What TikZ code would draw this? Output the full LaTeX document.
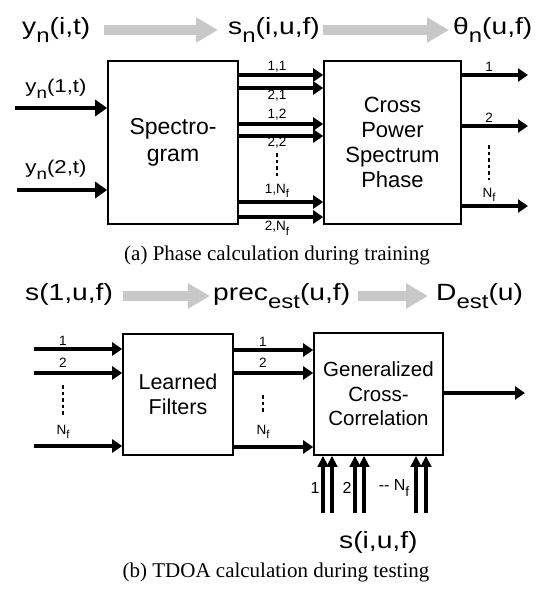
\documentclass[tikz,border=0pt]{standalone}
\usepackage{fontspec}
\setmainfont{Liberation Sans}
\newfontfamily\widesans{Liberation Sans}[FakeStretch=1.2]
\newfontfamily\capserif{Liberation Serif}
\usetikzlibrary{positioning,arrows.meta}
\definecolor{flowgray}{RGB}{200,200,200}
\newcommand{\lsub}[1]{\raisebox{-0.65ex}{\scalebox{0.85}{#1}}}
\tikzset{
  blk/.style={draw,line width=1.6pt,inner sep=0pt,align=center},
  sig/.style={line width=4pt,-{Triangle[length=10pt,width=13pt]}},
  bigsig/.style={line width=4.5pt,-{Triangle[length=12pt,width=16pt]}},
  upsig/.style={line width=3.5pt,-{Triangle[length=11pt,width=10.5pt]}},
  flow/.style={draw=flowgray,line width=10pt,-{Triangle[length=22pt,width=24pt]}},
  ttl/.style={inner sep=0pt,text height=17.5pt,text depth=8pt,font=\widesans\fontsize{23.5}{26}\selectfont},
  inlbl/.style={inner sep=0pt,font=\widesans\fontsize{18.5}{20}\selectfont},
  lbl/.style={inner sep=0pt,font=\fontsize{13.5}{14}\selectfont},
  uplbl/.style={inner sep=0pt,font=\fontsize{16}{18}\selectfont},
  vdots/.style={line width=2.2pt,dash pattern=on 3.5pt off 3pt},
  capt/.style={inner sep=0pt,font=\capserif\fontsize{21}{24}\selectfont}
}
\begin{document}
\begin{tikzpicture}[x=1pt,y=-1pt]
\useasboundingbox (0,0) rectangle (552,589);

\node[ttl,anchor=west] (yit) at (22,30) {y\lsub{n}(i,t)};
\node[ttl,anchor=west] (snt) at (228,30) {s\lsub{n}(i,u,f)};
\node[ttl,anchor=west] (thn) at (453,30) {θ\lsub{n}(u,f)};

\draw[flow,shorten <=13pt,shorten >=10pt] (yit) -- (snt);
\draw[flow,shorten <=3pt,shorten >=4pt] (snt) -- (thn);

\node[blk,minimum width=130pt,minimum height=163pt,font=\fontsize{23}{27}\selectfont] (spec) at (173,142.5) {Spectro-\\gram};
\node[blk,minimum width=137pt,minimum height=163pt,font=\fontsize{22}{25}\selectfont] (cpsp) at (392.5,142.5) {Cross\\Power\\Spectrum\\Phase};

\coordinate (yin1) at (15,108);
\coordinate (yin2) at (17,190);
\node[inlbl,anchor=base] (y1l) at (56,92) {y\lsub{n}(1,t)};
\node[inlbl,anchor=base] (y2l) at (56,173) {y\lsub{n}(2,t)};
\draw[bigsig] (yin1) -- (spec.west |- yin1);
\draw[bigsig] (yin2) -- (spec.west |- yin2);

\draw[sig] (spec.east |- 0,75) -- (cpsp.west |- 0,75);
\draw[sig] (spec.east |- 0,88) -- (cpsp.west |- 0,88);
\draw[sig] (spec.east |- 0,124) -- (cpsp.west |- 0,124);
\draw[sig] (spec.east |- 0,136) -- (cpsp.west |- 0,136);
\draw[sig] (spec.east |- 0,202) -- (cpsp.west |- 0,202);
\draw[sig] (spec.east |- 0,217) -- (cpsp.west |- 0,217);

\node[lbl] (l11) at (277,67) {1,1};
\node[lbl] (l21) at (277,96) {2,1};
\node[lbl] (l12) at (277,115) {1,2};
\node[lbl] (l22) at (277,143) {2,2};
\node[lbl] (l1n) at (277,191) {1,N\lsub{f}};
\node[lbl] (l2n) at (277,228) {2,N\lsub{f}};
\draw[vdots] (277,153) -- (277,177);

\coordinate (th1) at (528,75);
\coordinate (th2) at (528,126);
\coordinate (thN) at (528,206);
\draw[sig] (cpsp.east |- th1) -- (th1);
\draw[sig] (cpsp.east |- th2) -- (th2);
\draw[sig] (cpsp.east |- thN) -- (thN);
\node[lbl] (o1) at (489,67) {1};
\node[lbl] (o2) at (489,118) {2};
\node[lbl] (oN) at (489,195) {N\lsub{f}};
\draw[vdots] (489,145) -- (489,180);

\node[capt,anchor=base] (capa) at (277,260) {(a) Phase calculation during training};

\node[ttl,anchor=west] (s1t) at (25,296) {s(1,u,f)};
\node[ttl,anchor=west] (prt) at (213,296) {prec\lsub{est}(u,f)};
\node[ttl,anchor=west] (dst) at (436,296) {D\lsub{est}(u)};

\draw[flow,shorten <=10pt,shorten >=3pt] (s1t) -- (prt);
\draw[flow,shorten <=8pt,shorten >=8pt] (prt) -- (dst);

\node[blk,minimum width=110pt,minimum height=121pt,font=\fontsize{21.5}{25}\selectfont] (filt) at (178,394.5) {Learned\\Filters};
\node[blk,minimum width=129pt,minimum height=122pt,font=\fontsize{20.5}{24.5}\selectfont] (gcc) at (378.5,394) {Generalized\\Cross-\\Correlation};

\coordinate (s1in) at (34,349);
\coordinate (s2in) at (34,373);
\coordinate (sNin) at (34,446);
\draw[sig] (s1in) -- (filt.west |- s1in);
\draw[sig] (s2in) -- (filt.west |- s2in);
\draw[sig] (sNin) -- (filt.west |- sNin);
\node[lbl] (f1) at (63,341) {1};
\node[lbl] (f2) at (63,363) {2};
\node[lbl] (fN) at (63,432) {N\lsub{f}};
\draw[vdots] (63,385) -- (63,415);

\draw[sig] (filt.east |- 0,350) -- (gcc.west |- 0,350);
\draw[sig] (filt.east |- 0,373) -- (gcc.west |- 0,373);
\draw[sig] (filt.east |- 0,447) -- (gcc.west |- 0,447);
\node[lbl] (p1) at (263,342) {1};
\node[lbl] (p2) at (263,363) {2};
\node[lbl] (pN) at (263,432) {N\lsub{f}};
\draw[vdots] (263,395) -- (263,413);

\coordinate (dout) at (525,393);
\draw[sig] (gcc.east |- dout) -- (dout);

\coordinate (u1a) at (323,513);
\coordinate (u1b) at (332,513);
\coordinate (u2a) at (355,513);
\coordinate (u2b) at (364,513);
\coordinate (uNa) at (416,513);
\coordinate (uNb) at (426,513);
\draw[upsig] (u1a) -- (gcc.south -| u1a);
\draw[upsig] (u1b) -- (gcc.south -| u1b);
\draw[upsig] (u2a) -- (gcc.south -| u2a);
\draw[upsig] (u2b) -- (gcc.south -| u2b);
\draw[upsig] (uNa) -- (gcc.south -| uNa);
\draw[upsig] (uNb) -- (gcc.south -| uNb);
\node[uplbl] (u1l) at (315,488) {1};
\node[uplbl] (u2l) at (347,488) {2};
\node[uplbl] (uNl) at (394,488) {-{}- N\lsub{f}};

\node[ttl,anchor=base west] (sit) at (339,548) {s(i,u,f)};

\node[capt,anchor=base] (capb) at (276,577) {(b) TDOA calculation during testing};
\end{tikzpicture}
\end{document}
